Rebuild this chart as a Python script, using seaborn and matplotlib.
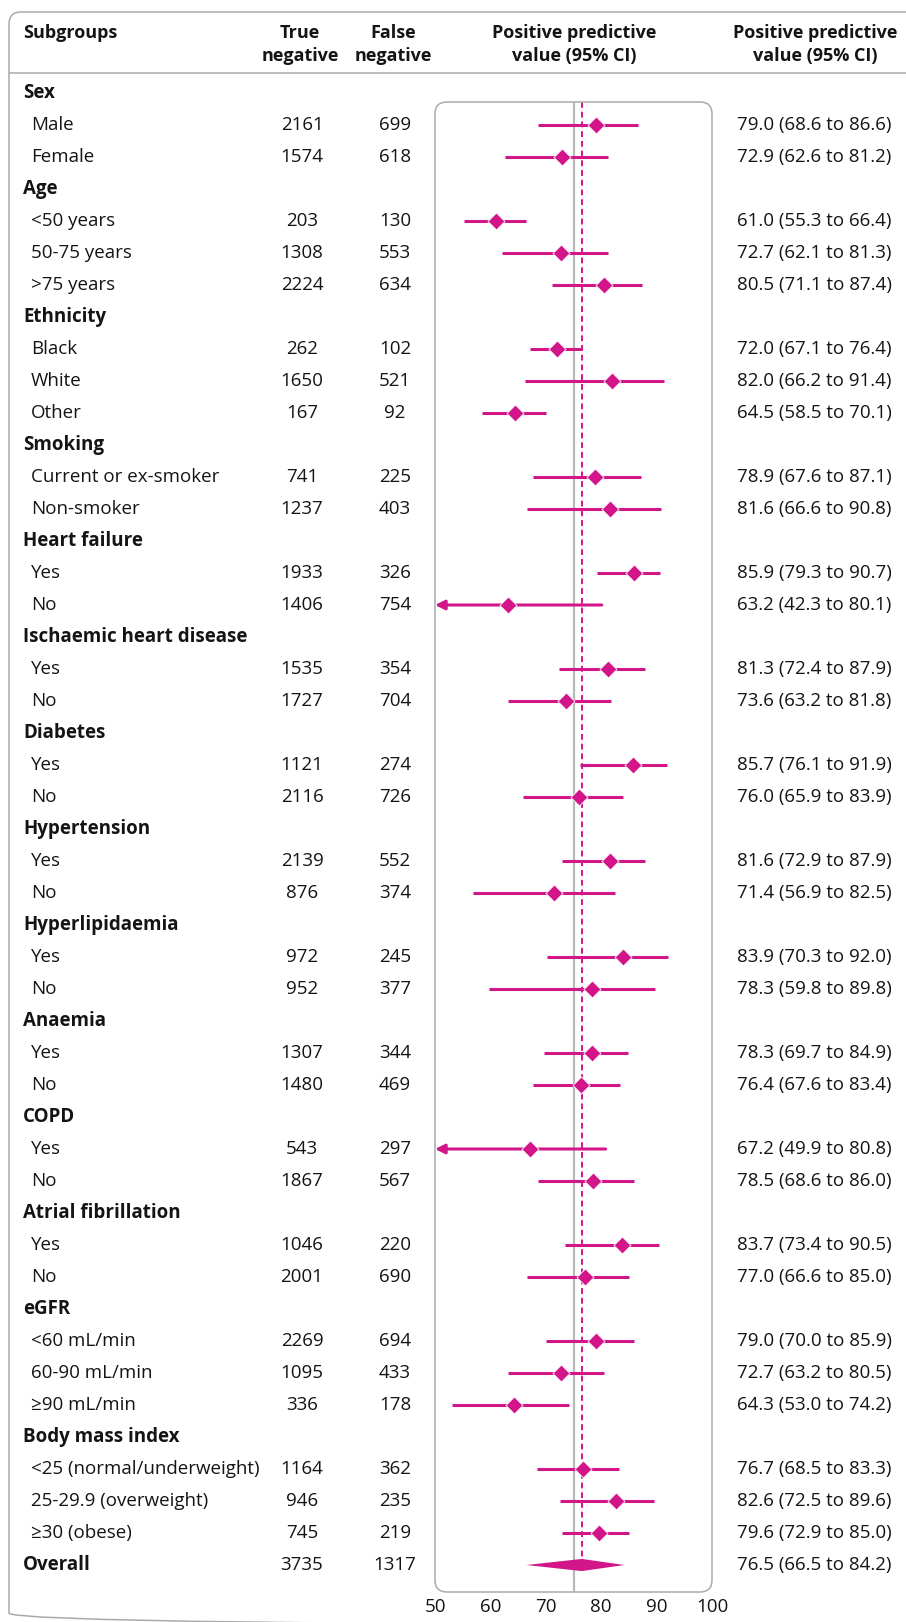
import matplotlib
matplotlib.use("Agg")
import matplotlib.pyplot as plt
import seaborn as sns
import pandas as pd
from matplotlib.patches import FancyBboxPatch
from matplotlib.lines import Line2D
from matplotlib.transforms import Affine2D, blended_transform_factory

# Linhas da tabela (None = linha de título do grupo)
rows = ["Sex", "Male", "Female",
        "Age", "<50 years", "50-75 years", ">75 years",
        "Ethnicity", "Black", "White", "Other",
        "Smoking", "Current or ex-smoker", "Non-smoker",
        "Heart failure", "Yes", "No",
        "Ischaemic heart disease", "Yes", "No",
        "Diabetes", "Yes", "No",
        "Hypertension", "Yes", "No",
        "Hyperlipidaemia", "Yes", "No",
        "Anaemia", "Yes", "No",
        "COPD", "Yes", "No",
        "Atrial fibrillation", "Yes", "No",
        "eGFR", "<60 mL/min", "60-90 mL/min", "≥90 mL/min",
        "Body mass index", "<25 (normal/underweight)", "25-29.9 (overweight)", "≥30 (obese)",
        "Overall"]

true_neg = [None, 2161, 1574, None, 203, 1308, 2224, None, 262, 1650, 167,
            None, 741, 1237, None, 1933, 1406, None, 1535, 1727, None, 1121, 2116,
            None, 2139, 876, None, 972, 952, None, 1307, 1480, None, 543, 1867,
            None, 1046, 2001, None, 2269, 1095, 336, None, 1164, 946, 745, 3735]

false_neg = [None, 699, 618, None, 130, 553, 634, None, 102, 521, 92,
             None, 225, 403, None, 326, 754, None, 354, 704, None, 274, 726,
             None, 552, 374, None, 245, 377, None, 344, 469, None, 297, 567,
             None, 220, 690, None, 694, 433, 178, None, 362, 235, 219, 1317]

ppv = [None, 79.0, 72.9, None, 61.0, 72.7, 80.5, None, 72.0, 82.0, 64.5,
       None, 78.9, 81.6, None, 85.9, 63.2, None, 81.3, 73.6, None, 85.7, 76.0,
       None, 81.6, 71.4, None, 83.9, 78.3, None, 78.3, 76.4, None, 67.2, 78.5,
       None, 83.7, 77.0, None, 79.0, 72.7, 64.3, None, 76.7, 82.6, 79.6, 76.5]

ci_low = [None, 68.6, 62.6, None, 55.3, 62.1, 71.1, None, 67.1, 66.2, 58.5,
          None, 67.6, 66.6, None, 79.3, 42.3, None, 72.4, 63.2, None, 76.1, 65.9,
          None, 72.9, 56.9, None, 70.3, 59.8, None, 69.7, 67.6, None, 49.9, 68.6,
          None, 73.4, 66.6, None, 70.0, 63.2, 53.0, None, 68.5, 72.5, 72.9, 66.5]

ci_high = [None, 86.6, 81.2, None, 66.4, 81.3, 87.4, None, 76.4, 91.4, 70.1,
           None, 87.1, 90.8, None, 90.7, 80.1, None, 87.9, 81.8, None, 91.9, 83.9,
           None, 87.9, 82.5, None, 92.0, 89.8, None, 84.9, 83.4, None, 80.8, 86.0,
           None, 90.5, 85.0, None, 85.9, 80.5, 74.2, None, 83.3, 89.6, 85.0, 84.2]

x_ticks = [50, 60, 70, 80, 90, 100]
ref_line = 75

PINK = "#d2168a"
GREY = "#ababab"
TXT = "#141414"

sns.set_theme(style="white")
plt.rcParams["font.family"] = ["Open Sans", "DejaVu Sans"]

W, H = 906, 1622
fig = plt.figure(figsize=(W / 100, H / 100), dpi=100)
px = Affine2D().scale(1 / W, -1 / H).translate(0, 1) + fig.transFigure

# área do gráfico de floresta
box_l, box_r, box_t, box_b = 435, 712, 102, 1592
row0, step = 93, 32
ax = fig.add_axes([box_l / W, 1 - box_b / H, (box_r - box_l) / W, (box_b - box_t) / H])
ax.patch.set_visible(False)
ax.set_xlim(x_ticks[0], x_ticks[-1])
ax.set_ylim((box_b - row0) / step, (box_t - row0) / step)
tx = blended_transform_factory(px, ax.transData)

df = pd.DataFrame({"row": range(len(rows)), "label": rows, "tn": true_neg, "fn": false_neg,
                   "ppv": ppv, "lo": ci_low, "hi": ci_high})
n_last = len(rows) - 1
sub = df[df["ppv"].notna() & (df["row"] != n_last)]

ax.axvline(ref_line, color="#b8b8b8", lw=1.6, zorder=1)
ax.vlines(ppv[n_last], ax.get_ylim()[1], n_last, color=PINK, lw=1.4,
          linestyles=(0, (3, 2)), zorder=2)

for _, r in sub.iterrows():
    if r["lo"] < x_ticks[0]:
        ax.annotate("", xy=(x_ticks[0], r["row"]), xytext=(r["hi"], r["row"]),
                    arrowprops=dict(arrowstyle="-|>", color=PINK, lw=2.2,
                                    mutation_scale=14, shrinkA=0, shrinkB=0),
                    annotation_clip=False, zorder=3)
    else:
        ax.hlines(r["row"], r["lo"], r["hi"], color=PINK, lw=2.2, zorder=3)

sns.scatterplot(data=sub, x="ppv", y="row", marker="D", s=75, color=PINK,
                edgecolor="white", linewidth=0.6, ax=ax, legend=False, zorder=4)

yo = n_last
ax.fill([ci_low[yo], ppv[yo], ci_high[yo], ppv[yo]], [yo, yo - 0.19, yo, yo + 0.19],
        color=PINK, lw=0, zorder=4)

ax.set_xticks(x_ticks)
ax.set_xticklabels([str(t) for t in x_ticks])
ax.set_yticks([])
ax.set_xlabel("")
ax.set_ylabel("")
ax.tick_params(axis="x", direction="in", length=5, width=1.1, color=GREY,
               pad=4, labelsize=13.5, labelcolor=TXT)
ticks = ax.xaxis.get_major_ticks()
ticks[0].tick1line.set_visible(False)
ticks[-1].tick1line.set_visible(False)
for s in ax.spines.values():
    s.set_visible(False)

fig.add_artist(FancyBboxPatch((box_l, box_t), box_r - box_l, box_b - box_t,
                              boxstyle="round,pad=0,rounding_size=12", transform=px,
                              fill=False, ec=GREY, lw=1.1))
# moldura externa e linha do cabeçalho
fig.add_artist(FancyBboxPatch((9, 12), 940, 1613, boxstyle="round,pad=0,rounding_size=12",
                              transform=px, fill=False, ec=GREY, lw=1.1))
fig.add_artist(Line2D([9, W], [73, 73], transform=px, color=GREY, lw=1.1))

# cabeçalho
hd = dict(transform=px, fontsize=13, fontweight="bold", color=TXT, va="center")
fig.text(23, 33, "Subgroups", ha="left", **hd)
for xc, l1, l2 in [(300, "True", "negative"), (393, "False", "negative"),
                   (574, "Positive predictive", "value (95% CI)"),
                   (815, "Positive predictive", "value (95% CI)")]:
    fig.text(xc, 33, l1, ha="center", **hd)
    fig.text(xc, 56, l2, ha="center", **hd)

# colunas de texto
for _, r in df.iterrows():
    y = r["row"]
    if pd.isna(r["ppv"]) or y == n_last:
        ax.text(23, y, r["label"], transform=tx, ha="left", va="center",
                fontsize=13.5, fontweight="bold", color=TXT)
    else:
        ax.text(31, y, r["label"], transform=tx, ha="left", va="center",
                fontsize=13.5, color=TXT)
    if pd.notna(r["ppv"]):
        ax.text(302, y, f"{int(r['tn'])}", transform=tx, ha="center", va="center",
                fontsize=13.5, color=TXT)
        ax.text(395, y, f"{int(r['fn'])}", transform=tx, ha="center", va="center",
                fontsize=13.5, color=TXT)
        ax.text(737, y, f"{r['ppv']:.1f} ({r['lo']:.1f} to {r['hi']:.1f})",
                transform=tx, ha="left", va="center", fontsize=13.5, color=TXT)

fig.savefig("out.png", dpi=100)
